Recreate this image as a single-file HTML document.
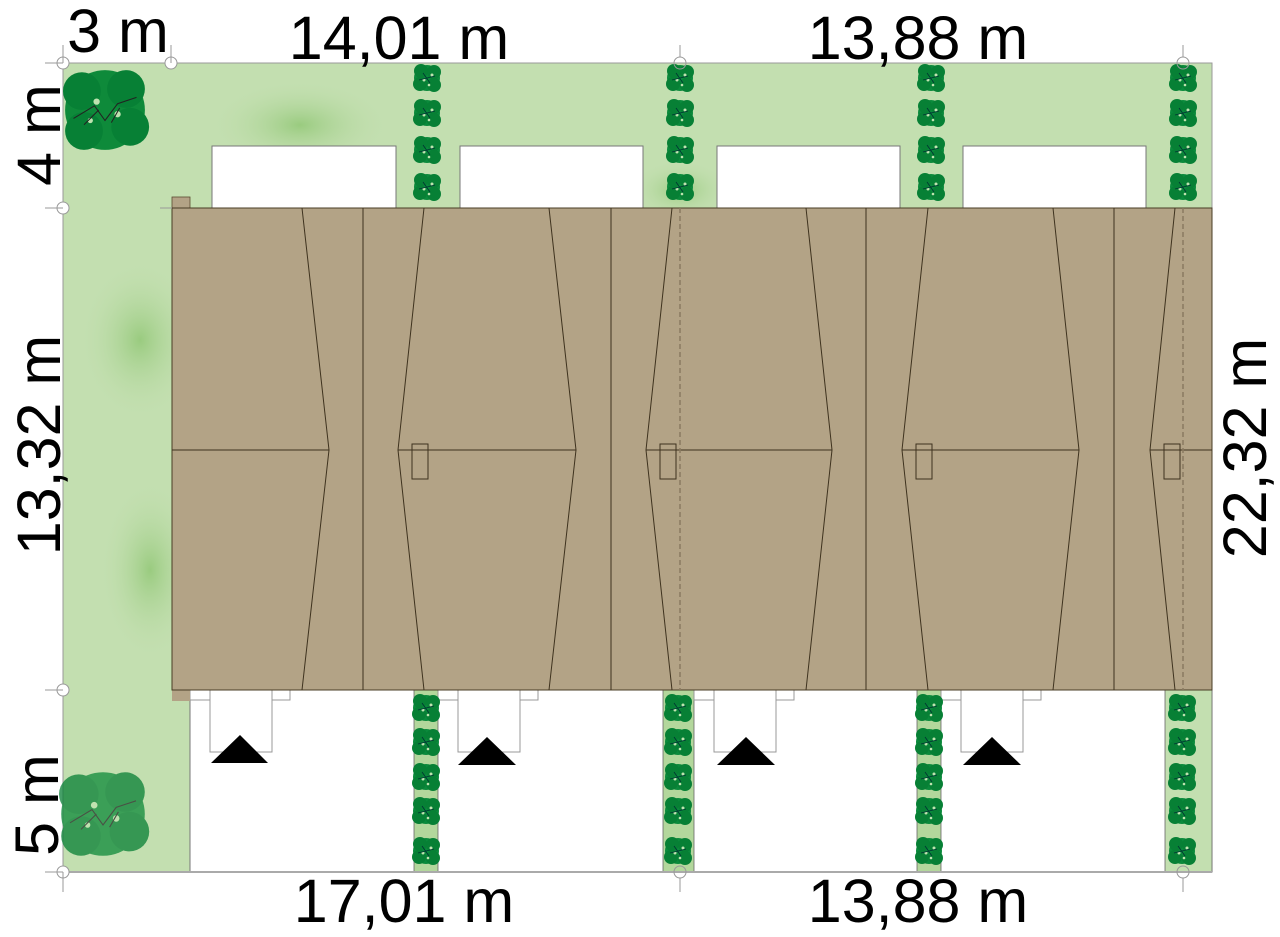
<!DOCTYPE html>
<html><head><meta charset="utf-8"><style>
html,body{margin:0;padding:0;background:#fff;}
svg{display:block;}
text{font-family:"Liberation Sans",sans-serif;fill:#000;}
</style></head><body>
<svg width="1280" height="937" viewBox="0 0 1280 937" xmlns="http://www.w3.org/2000/svg">
<defs>
<radialGradient id="g1" cx="0.5" cy="0.5" r="0.5"><stop offset="0" stop-color="#8fc673" stop-opacity="0.8"/><stop offset="1" stop-color="#c3dfb0" stop-opacity="0"/></radialGradient>
<g id="sh">
<circle r="13" fill="#0b8a3c"/>
<circle cx="-6" cy="-7" r="7" fill="#078035"/>
<circle cx="7" cy="-6" r="7" fill="#078035"/>
<circle cx="7" cy="7" r="7" fill="#078035"/>
<circle cx="-7" cy="6" r="7" fill="#078035"/>
<circle cx="-3" cy="2" r="1.5" fill="#bfe3b0"/><circle cx="5" cy="-3" r="1.5" fill="#bfe3b0"/><circle cx="2" cy="7" r="1.3" fill="#bfe3b0"/>
<path d="M-8 2 L8 -2 M-4 -5 L3 5" stroke="#033" stroke-width="0.8"/>
</g>
<g id="tree">
<circle r="38" fill="#0e8a3a"/>
<circle cx="-22" cy="-18" r="18" fill="#078035"/><circle cx="20" cy="-20" r="18" fill="#078035"/>
<circle cx="24" cy="16" r="18" fill="#078035"/><circle cx="-20" cy="20" r="18" fill="#078035"/>
<circle cx="-8" cy="-8" r="3" fill="#bfe3b0"/><circle cx="12" cy="4" r="3" fill="#bfe3b0"/><circle cx="-14" cy="10" r="2.5" fill="#bfe3b0"/>
<path d="M-30 8 L-10 -4 L0 10 L12 -6 L30 -12 M-20 14 L-6 0 M6 12 L14 -2" stroke="#222" stroke-width="1" fill="none"/>
</g>
</defs>
<rect x="63" y="63" width="1149" height="809" fill="#c3dfb0" stroke="#999" stroke-width="1"/>
<ellipse cx="300" cy="125" rx="90" ry="45" fill="url(#g1)"/>
<ellipse cx="140" cy="340" rx="60" ry="80" fill="url(#g1)"/>
<ellipse cx="150" cy="570" rx="50" ry="90" fill="url(#g1)"/>
<ellipse cx="680" cy="190" rx="50" ry="30" fill="url(#g1)"/>
<rect x="190" y="690" width="1022" height="182" fill="#fff"/>
<line x1="190" y1="690" x2="190" y2="872" stroke="#777"/>
<rect x="414" y="690" width="24" height="182" fill="#b3d79c" stroke="#666" stroke-width="0.8"/>
<rect x="663" y="690" width="31" height="182" fill="#b3d79c" stroke="#666" stroke-width="0.8"/>
<rect x="917" y="690" width="24" height="182" fill="#b3d79c" stroke="#666" stroke-width="0.8"/>
<rect x="1165" y="690" width="47" height="182" fill="#c3dfb0" stroke="#666" stroke-width="0.8"/>
<line x1="63" y1="872" x2="1212" y2="872" stroke="#aaa" stroke-width="2"/>
<g fill="#fff" stroke="#777" stroke-width="1">
<rect x="212" y="146" width="184" height="62"/><rect x="460" y="146" width="183" height="62"/>
<rect x="717" y="146" width="183" height="62"/><rect x="963" y="146" width="183" height="62"/>
</g>
<g fill="#fff" stroke="#999" stroke-width="1">
<rect x="190" y="690" width="100" height="10"/><rect x="210" y="690" width="62" height="62"/>
<rect x="438" y="690" width="100" height="10"/><rect x="458" y="690" width="62" height="62"/>
<rect x="694" y="690" width="100" height="10"/><rect x="714" y="690" width="62" height="62"/>
<rect x="941" y="690" width="100" height="10"/><rect x="961" y="690" width="62" height="62"/>
</g>
<g fill="#000">
<polygon points="211,763 268,763 240,735"/><polygon points="458,765 516,765 487,737"/>
<polygon points="717,765 775,765 746,737"/><polygon points="963,765 1021,765 992,737"/>
</g>
<rect x="172" y="197" width="18" height="11" fill="#b3a386" stroke="#5a4a30" stroke-width="0.8"/>
<rect x="172" y="690" width="18" height="11" fill="#b3a386"/>
<rect x="172" y="208" width="1040" height="482" fill="#b3a386" stroke="#4a3c25" stroke-width="1"/>
<g stroke="#3e321e" stroke-width="1" fill="none">
<line x1="363" y1="208" x2="363" y2="690"/><line x1="611" y1="208" x2="611" y2="690"/>
<line x1="866" y1="208" x2="866" y2="690"/><line x1="1114" y1="208" x2="1114" y2="690"/>
<polyline points="302,208 329,450 302,690"/>
<polyline points="424,208 398,450 424,690"/><polyline points="549,208 576,450 549,690"/>
<polyline points="672,208 646,450 672,690"/><polyline points="806,208 832,450 806,690"/>
<polyline points="928,208 902,450 928,690"/><polyline points="1053,208 1079,450 1053,690"/>
<polyline points="1175,208 1150,450 1175,690"/>
<line x1="172" y1="450" x2="329" y2="450"/><line x1="398" y1="450" x2="576" y2="450"/>
<line x1="646" y1="450" x2="832" y2="450"/><line x1="902" y1="450" x2="1079" y2="450"/>
<line x1="1150" y1="450" x2="1212" y2="450"/>
<rect x="412" y="444" width="16" height="35"/><rect x="660" y="444" width="16" height="35"/>
<rect x="916" y="444" width="16" height="35"/><rect x="1164" y="444" width="16" height="35"/>
</g>
<g stroke="#8a7a60" stroke-width="1.5" stroke-dasharray="5,3">
<line x1="680" y1="208" x2="680" y2="690"/><line x1="1183" y1="208" x2="1183" y2="690"/>
</g>
<g>
<use href="#sh" x="427" y="78"/><use href="#sh" x="427" y="113"/><use href="#sh" x="427" y="150"/><use href="#sh" x="427" y="187"/>
<use href="#sh" x="680" y="78"/><use href="#sh" x="680" y="113"/><use href="#sh" x="680" y="150"/><use href="#sh" x="680" y="187"/>
<use href="#sh" x="931" y="78"/><use href="#sh" x="931" y="113"/><use href="#sh" x="931" y="150"/><use href="#sh" x="931" y="187"/>
<use href="#sh" x="1183" y="78"/><use href="#sh" x="1183" y="113"/><use href="#sh" x="1183" y="150"/><use href="#sh" x="1183" y="187"/>
<use href="#sh" x="426" y="708"/><use href="#sh" x="426" y="742"/><use href="#sh" x="426" y="777"/><use href="#sh" x="426" y="811"/><use href="#sh" x="426" y="851"/>
<use href="#sh" x="678" y="708"/><use href="#sh" x="678" y="742"/><use href="#sh" x="678" y="777"/><use href="#sh" x="678" y="811"/><use href="#sh" x="678" y="851"/>
<use href="#sh" x="929" y="708"/><use href="#sh" x="929" y="742"/><use href="#sh" x="929" y="777"/><use href="#sh" x="929" y="811"/><use href="#sh" x="929" y="851"/>
<use href="#sh" x="1182" y="708"/><use href="#sh" x="1182" y="742"/><use href="#sh" x="1182" y="777"/><use href="#sh" x="1182" y="811"/><use href="#sh" x="1182" y="851"/>
</g>
<use href="#tree" x="105" y="110" transform="translate(105 110) scale(1.05) translate(-105 -110)"/>
<g opacity="0.75"><use href="#tree" x="103" y="814" transform="translate(103 814) scale(1.1) translate(-103 -814)"/></g>
<g fill="none" stroke="#999" stroke-width="1">
<circle cx="63" cy="63" r="6" fill="#fff"/><circle cx="171" cy="63" r="6" fill="#fff"/>
<circle cx="63" cy="208" r="6" fill="#fff"/><circle cx="63" cy="690" r="6" fill="#fff"/>
<circle cx="63" cy="872" r="6" fill="#fff"/><circle cx="680" cy="63" r="6"/>
<circle cx="1183" cy="63" r="6"/><circle cx="680" cy="872" r="6"/><circle cx="1183" cy="872" r="6"/>
<line x1="45" y1="63" x2="63" y2="63"/><line x1="63" y1="45" x2="63" y2="63"/>
<line x1="171" y1="45" x2="171" y2="63"/><line x1="45" y1="208" x2="63" y2="208"/>
<line x1="45" y1="690" x2="63" y2="690"/><line x1="45" y1="872" x2="63" y2="872"/>
<line x1="63" y1="872" x2="63" y2="892"/><line x1="680" y1="45" x2="680" y2="57"/>
<line x1="1183" y1="45" x2="1183" y2="57"/><line x1="680" y1="878" x2="680" y2="892"/>
<line x1="1183" y1="878" x2="1183" y2="892"/><line x1="160" y1="208" x2="172" y2="208"/>
</g>
<g font-size="61">
<text x="118" y="52" text-anchor="middle">3 m</text>
<text x="399" y="59" text-anchor="middle">14,01 m</text>
<text x="918" y="59" text-anchor="middle">13,88 m</text>
<text x="404" y="922" text-anchor="middle">17,01 m</text>
<text x="918" y="922" text-anchor="middle">13,88 m</text>
<text transform="translate(60 135) rotate(-90)" text-anchor="middle">4 m</text>
<text transform="translate(60 445) rotate(-90)" text-anchor="middle">13,32 m</text>
<text transform="translate(58 805) rotate(-90)" text-anchor="middle">5 m</text>
<text transform="translate(1266 448) rotate(-90)" text-anchor="middle">22,32 m</text>
</g>
</svg>
</body></html>
